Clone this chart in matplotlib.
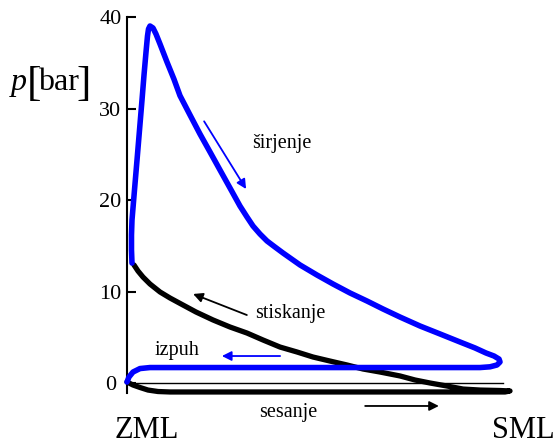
import numpy as np
import matplotlib
matplotlib.use("Agg")
import matplotlib.pyplot as plt

# x: stroke fraction (0 = ZML, 1 = SML), p in bar
# blue: combustion rise, expansion (širjenje), exhaust (izpuh)
blue_x = [0.0132, 0.0119, 0.0119, 0.0132, 0.0198, 0.0265, 0.0331, 0.0397, 0.0450, 0.0503,
          0.0542, 0.0569, 0.0608, 0.0688, 0.0767, 0.0873, 0.1058, 0.1243, 0.1402, 0.1667,
          0.1931, 0.2196, 0.2460, 0.2725, 0.2989, 0.3175, 0.3333, 0.3519, 0.3704, 0.3915,
          0.4127, 0.4577, 0.5026, 0.5450, 0.5899, 0.6349, 0.6772, 0.7222, 0.7751, 0.8280,
          0.8810, 0.9206, 0.9497, 0.9709, 0.9841, 0.9868, 0.9788, 0.9603, 0.9339, 0.0608,
          0.0344, 0.0159, 0.0053, 0.0]
blue_p = [13.11, 14.54, 16.17, 17.81, 21.09, 24.37, 27.65, 30.93, 33.66, 36.17,
          37.92, 38.69, 39.02, 38.80, 38.14, 37.05, 35.08, 33.20, 31.40, 29.29,
          27.21, 25.25, 23.28, 21.31, 19.34, 18.14, 17.16, 16.28, 15.52, 14.86,
          14.21, 12.90, 11.80, 10.82, 9.84, 8.96, 8.09, 7.21, 6.23, 5.36,
          4.48, 3.83, 3.28, 2.95, 2.62, 2.30, 1.97, 1.77, 1.69, 1.69,
          1.58, 1.20, 0.66, 0.11]

# black: intake (sesanje) then compression (stiskanje)
black_x = [0.0, 0.0159, 0.0344, 0.0556, 0.0820, 0.1138, 0.4577, 0.8545, 0.9999, 1.0132,
           0.9868, 0.9339, 0.8889, 0.8466, 0.8016, 0.7619, 0.7222, 0.6693, 0.6243, 0.5820,
           0.5370, 0.4921, 0.4497, 0.4048, 0.3598, 0.3175, 0.2725, 0.2275, 0.1825, 0.1402,
           0.1138, 0.0873, 0.0608, 0.0423, 0.0291, 0.0185]
black_p = [0.11, -0.22, -0.49, -0.77, -0.93, -0.98, -0.98, -0.98, -0.98, -0.87,
           -0.82, -0.77, -0.66, -0.33, 0.0, 0.33, 0.77, 1.20, 1.53, 1.97,
           2.40, 2.84, 3.39, 3.93, 4.70, 5.46, 6.12, 6.89, 7.76, 8.70,
           9.29, 9.95, 10.82, 11.58, 12.24, 12.90]

y_ticks = [0, 10, 20, 30, 40]

plt.rcParams['font.family'] = ['Liberation Serif', 'DejaVu Serif']

fig = plt.figure(figsize=(5.56, 4.43), dpi=100)
ax = fig.add_axes([127 / 556, 0.1127, 0.7003, 0.8489])

ax.plot(blue_x, blue_p, color='#0000ff', lw=4.0, solid_capstyle='round',
        solid_joinstyle='round', clip_on=False, zorder=4)
ax.plot(black_x, black_p, color='black', lw=3.8, solid_capstyle='round',
        solid_joinstyle='round', clip_on=False, zorder=3)
ax.plot([0, 0.995], [0, 0], color='black', lw=1.0, clip_on=False, zorder=2)

# arrows + labels
arr = dict(arrowstyle='-|>', lw=1.3, mutation_scale=14, shrinkA=0, shrinkB=0)
ax.annotate('', xy=(0.315, 21.2), xytext=(0.204, 28.6),
            arrowprops=dict(arr, color='#0000ff'), annotation_clip=False)
ax.text(0.331, 26.2, 'širjenje', fontsize=14.5, va='center', ha='left')
ax.annotate('', xy=(0.175, 9.73), xytext=(0.317, 7.43),
            arrowprops=dict(arr, color='black'), annotation_clip=False)
ax.text(0.339, 7.65, 'stiskanje', fontsize=14.5, va='center', ha='left')
ax.annotate('', xy=(0.251, 2.95), xytext=(0.405, 2.95),
            arrowprops=dict(arr, color='#0000ff'), annotation_clip=False)
ax.text(0.074, 3.6, 'izpuh', fontsize=14.5, va='center', ha='left')
ax.annotate('', xy=(0.825, -2.51), xytext=(0.630, -2.51),
            arrowprops=dict(arr, color='black'), annotation_clip=False)
ax.text(0.349, -3.17, 'sesanje', fontsize=14.5, va='center', ha='left', clip_on=False)

ax.set_xlim(0, 1.03)
ax.set_ylim(-1.1, 40)
ax.set_xticks([])
ax.set_yticks(y_ticks)
ax.tick_params(axis='y', direction='in', length=6.5, width=1.5, labelsize=16, pad=12)
for lab in ax.get_yticklabels():
    lab.set_horizontalalignment('center')
for s in ['top', 'right', 'bottom']:
    ax.spines[s].set_visible(False)
ax.spines['left'].set_linewidth(1.5)

# y label "p[bar]" with tall brackets
base = 1 - 90 / 443
fig.text(19 / 556, base, 'p', fontsize=23, style='italic', ha='center', va='baseline')
fig.text(27 / 556, 1 - 95 / 443, '[', fontsize=31, ha='left', va='baseline')
fig.text(38 / 556, base, 'bar', fontsize=23, ha='left', va='baseline')
fig.text(91 / 556, 1 - 95 / 443, ']', fontsize=31, ha='right', va='baseline')

fig.text(147 / 556, 1 - 430 / 443, 'ZML', fontsize=22, ha='center', va='center')
fig.text(523 / 556, 1 - 430 / 443, 'SML', fontsize=22, ha='center', va='center')

plt.savefig('out.png', dpi=100)
